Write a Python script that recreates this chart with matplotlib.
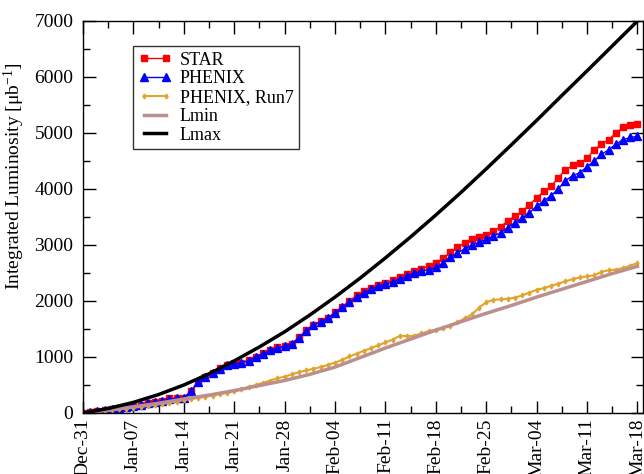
import numpy as np
import matplotlib
matplotlib.use("Agg")
import matplotlib.pyplot as plt
from matplotlib.ticker import MultipleLocator

plt.rcParams['font.family'] = ['Liberation Serif', 'DejaVu Serif']
plt.rcParams['mathtext.fontset'] = 'custom'
plt.rcParams['mathtext.rm'] = 'Liberation Serif'
plt.rcParams['mathtext.it'] = 'Liberation Serif:italic'

# x labels: one tick per week, starting Dec-31
week_labels = ['Dec-31', 'Jan-07', 'Jan-14', 'Jan-21', 'Jan-28', 'Feb-04',
               'Feb-11', 'Feb-18', 'Feb-25', 'Mar-04', 'Mar-11', 'Mar-18']

# daily integrated luminosity (days since Dec-31)
star = [0, 20, 40, 60, 80, 95, 110, 130, 150, 170,
        190, 210, 260, 265, 270, 400, 560, 650, 720, 800,
        860, 890, 900, 940, 1000, 1070, 1130, 1170, 1200, 1240,
        1350, 1480, 1580, 1640, 1700, 1800, 1900, 2000, 2100, 2170,
        2240, 2290, 2330, 2370, 2420, 2480, 2540, 2580, 2620, 2670,
        2760, 2870, 2960, 3040, 3110, 3150, 3180, 3250, 3330, 3430,
        3520, 3600, 3720, 3840, 3960, 4050, 4200, 4340, 4420, 4460,
        4550, 4700, 4800, 4880, 5000, 5100, 5140, 5160]

phenix = [0, 15, 35, 55, 75, 95, 115, 125, 145, 175,
          195, 215, 250, 260, 265, 390, 550, 640, 720, 790,
          850, 880, 900, 930, 1000, 1060, 1120, 1160, 1190, 1240,
          1340, 1470, 1570, 1630, 1690, 1790, 1890, 1980, 2070, 2140,
          2210, 2260, 2300, 2340, 2390, 2440, 2500, 2530, 2560, 2600,
          2680, 2780, 2860, 2930, 3000, 3050, 3100, 3160, 3220, 3310,
          3400, 3480, 3580, 3690, 3790, 3880, 4000, 4150, 4240, 4290,
          4400, 4500, 4620, 4700, 4800, 4880, 4920, 4940]

phenix_run7 = [0, 12, 25, 38, 50, 65, 80, 95, 110, 125,
               145, 165, 185, 205, 230, 250, 270, 290, 310, 335,
               360, 385, 420, 460, 500, 540, 580, 620, 650, 690,
               730, 760, 790, 820, 860, 900, 950, 1010, 1060, 1110,
               1160, 1210, 1260, 1310, 1380, 1370, 1380, 1420, 1460, 1490,
               1520, 1560, 1620, 1690, 1760, 1880, 1980, 2020, 2030, 2040,
               2060, 2100, 2150, 2200, 2230, 2270, 2310, 2350, 2390, 2420,
               2440, 2460, 2520, 2550, 2560, 2590, 2630, 2680]

# projections, read every half week
proj_days = [0, 3.5, 7, 10.5, 14, 17.5, 21, 24.5, 28, 31.5, 35, 38.5,
             42, 45.5, 49, 52.5, 56, 59.5, 63, 66.5, 70, 73.5, 77]
lmin = [0, 50, 110, 175, 250, 320, 400, 490, 580, 690, 820, 990,
        1160, 1320, 1480, 1630, 1780, 1920, 2070, 2210, 2350, 2490, 2620]
lmax = [0, 80, 190, 330, 500, 700, 930, 1180, 1450, 1750, 2070, 2410,
        2770, 3145, 3535, 3940, 4360, 4790, 5225, 5670, 6110, 6555, 7000]

days = np.arange(len(star))

fig = plt.figure(figsize=(6.44, 4.74), dpi=100)
ax = fig.add_axes([0.1289, 0.1287, 0.8688, 0.827])

ax.plot(days, star, color='#ff0000', lw=1, marker='s', ms=5, label='STAR')
ax.plot(days, phenix, color='#0000ff', lw=1, marker='^', ms=5.5, label='PHENIX')
ax.plot(days, phenix_run7, color='#e0a52a', lw=1.5, marker='d', ms=2.5,
        label='PHENIX, Run7')
ax.plot(proj_days, lmin, color='#bc8f8f', lw=2.5, label='Lmin')
ax.plot(proj_days, lmax, color='black', lw=2.5, label='Lmax')

ax.set_xlim(0, 77.7)
ax.set_ylim(0, 7000)
ax.set_xticks(np.arange(len(week_labels)) * 7)
ax.set_xticklabels(week_labels, rotation=90)
ax.xaxis.set_minor_locator(MultipleLocator(3.5))
ax.yaxis.set_major_locator(MultipleLocator(1000))
ax.yaxis.set_minor_locator(MultipleLocator(500))
ax.tick_params(which='both', direction='in', top=True, right=True,
               labelsize=14, width=1)
ax.tick_params(which='major', length=9)
ax.tick_params(which='minor', length=5)
ax.tick_params(axis='y', pad=7)
ax.tick_params(axis='x', pad=4)
for s in ax.spines.values():
    s.set_linewidth(1)

ax.set_ylabel('Integrated Luminosity [μb$^{\\mathrm{-1}}$]', fontsize=14)
ax.yaxis.set_label_coords(-0.1, 0.605)

leg = ax.legend(loc='upper left', bbox_to_anchor=(0.0894, 0.936),
                borderaxespad=0, fontsize=13, frameon=True, fancybox=False,
                numpoints=2, handlelength=1.8, handletextpad=0.5,
                labelspacing=0.1, borderpad=0.3)
leg.get_frame().set_edgecolor('black')
leg.get_frame().set_linewidth(1)

plt.savefig('out.png', dpi=100)
